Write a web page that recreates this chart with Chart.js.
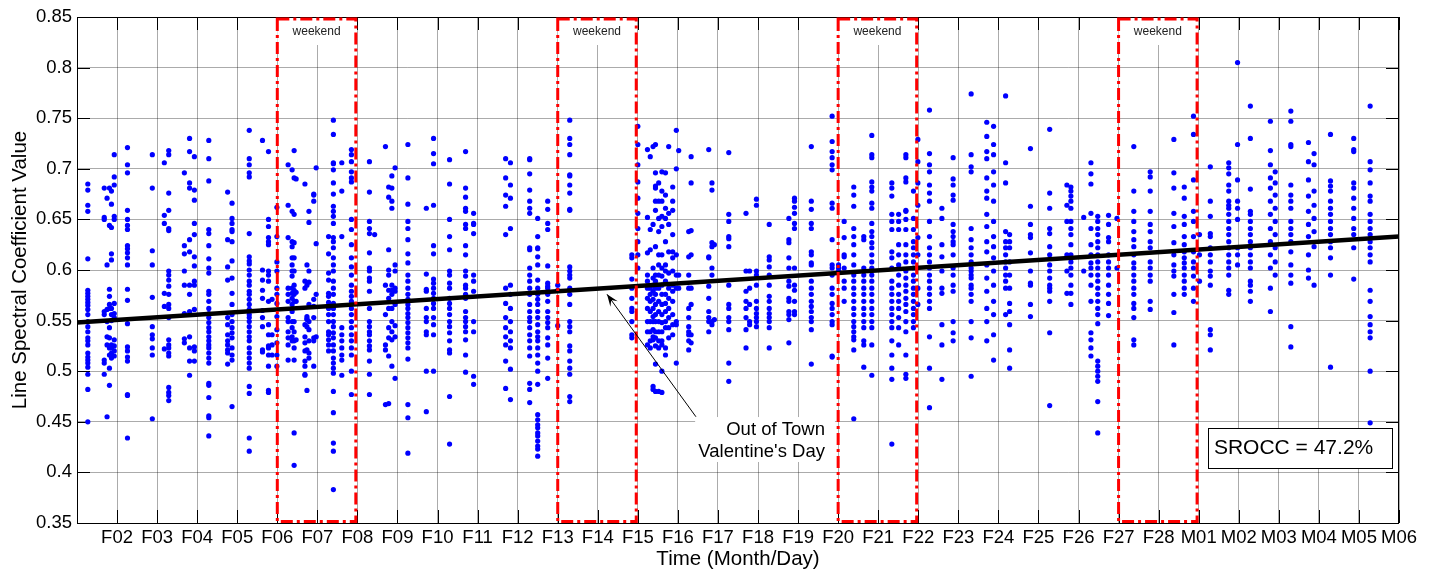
<!DOCTYPE html>
<html><head><meta charset="utf-8">
<script src="https://cdn.jsdelivr.net/npm/chart.js@4.4.1/dist/chart.umd.min.js"></script>
<style>html,body{margin:0;padding:0;background:#fff;}#wrap{width:1429px;height:571px;}</style>
</head><body><div id="wrap"><canvas id="c" width="1429" height="571"></canvas></div>
<script>
// x axis: day index (1 = Feb 01 ... 34 = Mar 06)
const dayLabels = ['', 'F02','F03','F04','F05','F06','F07','F08','F09','F10','F11','F12','F13','F14','F15','F16','F17','F18','F19','F20','F21','F22','F23','F24','F25','F26','F27','F28','M01','M02','M03','M04','M05','M06'];
const yTickValues = [0.35,0.4,0.45,0.5,0.55,0.6,0.65,0.7,0.75,0.8,0.85];
const weekendStart = [6, 13, 20, 27];
const trendX = [1, 34];
const trendY = [0.548, 0.633];
const srocc = 'SROCC = 47.2%';

// measurement strips: day position and the values measured there
const stripX = [1.27,1.68,1.75,1.81,1.86,1.93,2.26,2.88,3.18,3.29,3.68,3.81,3.93,4.29,4.76,4.87,5.30,5.63,5.78,5.87,5.99,6.27,6.37,6.42,6.47,6.69,6.74,6.79,6.91,6.97,7.28,7.40,7.61,7.85,8.30,8.43,8.70,8.78,8.86,8.94,9.26,9.72,9.90,10.30,10.70,10.90,11.70,11.82,12.30,12.50,12.75,13.00,13.30,14.85,15.00,15.24,15.31,15.38,15.44,15.52,15.60,15.69,15.77,15.87,15.96,16.02,16.27,16.33,16.77,16.85,16.91,17.27,17.70,17.79,17.96,18.28,18.77,18.91,19.33,19.85,20.01,20.15,20.39,20.64,20.84,21.34,21.51,21.69,21.88,21.99,22.28,22.59,22.87,23.32,23.71,23.88,24.18,24.28,24.80,25.28,25.71,25.81,26.13,26.31,26.48,26.75,26.96,27.38,27.79,28.38,28.64,28.87,29.02,29.29,29.75,29.97,30.29,30.79,30.91,31.30,31.74,31.88,32.29,32.87,33.28];
const stripY = [
[0.685,0.679,0.664,0.658,0.611,0.580,0.577,0.574,0.571,0.568,0.565,0.561,0.556,0.549,0.544,0.539,0.533,0.530,0.526,0.518,0.514,0.511,0.508,0.504,0.497,0.482,0.450],
[0.681,0.652,0.650,0.559,0.556,0.511,0.508,0.497],
[0.671,0.605,0.561,0.549,0.534,0.526,0.455],
[0.681,0.644,0.581,0.574,0.566,0.562,0.543,0.533,0.523,0.516,0.503,0.486],
[0.678,0.665,0.642,0.616,0.610,0.562,0.556,0.550,0.526,0.523,0.518,0.513],
[0.714,0.692,0.684,0.653,0.650,0.567,0.557,0.553,0.531,0.525,0.520,0.515],
[0.721,0.704,0.696,0.659,0.650,0.644,0.640,0.624,0.621,0.617,0.612,0.605,0.581,0.570,0.547,0.524,0.520,0.514,0.510,0.477,0.476,0.434],
[0.714,0.681,0.619,0.605,0.573,0.544,0.536,0.532,0.523,0.516,0.453],
[0.706,0.654,0.646,0.577,0.564,0.522],
[0.718,0.714,0.676,0.659,0.641,0.639,0.599,0.595,0.590,0.584,0.576,0.566,0.562,0.553,0.531,0.526,0.523,0.518,0.515,0.484,0.479,0.476,0.471],
[0.696,0.624,0.616,0.599,0.585,0.557,0.532,0.528],
[0.730,0.717,0.686,0.681,0.630,0.618,0.585,0.576,0.559,0.534,0.523,0.510,0.496],
[0.712,0.679,0.669,0.646,0.635,0.613,0.604,0.589,0.585,0.561,0.524,0.520,0.510],
[0.728,0.710,0.688,0.640,0.636,0.624,0.611,0.602,0.597,0.579,0.576,0.569,0.562,0.557,0.553,0.548,0.543,0.539,0.534,0.530,0.526,0.523,0.518,0.513,0.508,0.488,0.486,0.474,0.456,0.454,0.436],
[0.677,0.630,0.603,0.590,0.553,0.546,0.536,0.530,0.526,0.521,0.518,0.507],
[0.666,0.651,0.646,0.640,0.638,0.628,0.609,0.592,0.577,0.566,0.556,0.549,0.543,0.538,0.533,0.523,0.516,0.511,0.465],
[0.738,0.710,0.704,0.696,0.692,0.636,0.613,0.609,0.606,0.600,0.595,0.589,0.585,0.579,0.576,0.571,0.566,0.561,0.556,0.553,0.549,0.544,0.539,0.534,0.530,0.523,0.518,0.513,0.508,0.503,0.485,0.478,0.434,0.421],
[0.728,0.600,0.590,0.580,0.572,0.560,0.553,0.544,0.521,0.519],
[0.717,0.650,0.643,0.632,0.628,0.625,0.599,0.595,0.589,0.569,0.546,0.536,0.525,0.523,0.516,0.505,0.481,0.479],
[0.571,0.536,0.526,0.516],
[0.662,0.633,0.608,0.599,0.582,0.576,0.567,0.554,0.541,0.528,0.516,0.505],
[0.704,0.664,0.632,0.582,0.576,0.569,0.553,0.549,0.539,0.533,0.526,0.511],
[0.699,0.658,0.628,0.623,0.612,0.605,0.599,0.594,0.582,0.577,0.572,0.566,0.559,0.549,0.543,0.534,0.530],
[0.718,0.691,0.655,0.627,0.612,0.599,0.585,0.580,0.576,0.569,0.549,0.539,0.530,0.523,0.511,0.439,0.407],
[0.690,0.578,0.569,0.531],
[0.685,0.589,0.582,0.546,0.534,0.528,0.520,0.510,0.505,0.497,0.496],
[0.605,0.585,0.554,0.552,0.551,0.544,0.521,0.481],
[0.658,0.647,0.599,0.588,0.566,0.549,0.541,0.530,0.518,0.513],
[0.675,0.674,0.668,0.571,0.564,0.553,0.533,0.530,0.505],
[0.701,0.626,0.576,0.534],
[0.633,0.616,0.597,0.590,0.577,0.574,0.568,0.562,0.556,0.549,0.539,0.536,0.531,0.526,0.520],
[0.748,0.734,0.706,0.705,0.699,0.686,0.675,0.663,0.658,0.653,0.646,0.632,0.628,0.622,0.612,0.605,0.599,0.589,0.582,0.576,0.567,0.562,0.556,0.549,0.544,0.538,0.533,0.526,0.520,0.513,0.508,0.503,0.498,0.480,0.459,0.429,0.421,0.383],
[0.706,0.678,0.633,0.543,0.536,0.530,0.523,0.516,0.511,0.496],
[0.719,0.714,0.707,0.697,0.691,0.687,0.650,0.640,0.625,0.612,0.603,0.595,0.585,0.579,0.574,0.569,0.562,0.556,0.549,0.543,0.536,0.530,0.523,0.516,0.500,0.477],
[0.707,0.677,0.648,0.641,0.636,0.617,0.602,0.599,0.592,0.589,0.579,0.562,0.549,0.544,0.539,0.536,0.530,0.525,0.521,0.510,0.497,0.477],
[0.635],
[0.722,0.585,0.556,0.526,0.521,0.467],
[0.682,0.672,0.620,0.600,0.595,0.580,0.572,0.562,0.543,0.533,0.515,0.468],
[0.693,0.681,0.668,0.661,0.585,0.580,0.576,0.562,0.549,0.539,0.531,0.505],
[0.701,0.605,0.599,0.582,0.579,0.566,0.545,0.534,0.493],
[0.724,0.691,0.665,0.648,0.641,0.630,0.616,0.607,0.595,0.589,0.582,0.576,0.571,0.566,0.562,0.557,0.553,0.548,0.543,0.538,0.533,0.528,0.523,0.512,0.467,0.454,0.419],
[0.661,0.596,0.581,0.579,0.562,0.553,0.549,0.539,0.536,0.500,0.460],
[0.730,0.715,0.705,0.664,0.624,0.616,0.591,0.587,0.582,0.577,0.572,0.567,0.562,0.553,0.546,0.536,0.500],
[0.709,0.685,0.650,0.633,0.620,0.599,0.595,0.587,0.582,0.572,0.567,0.562,0.556,0.549,0.544,0.538,0.530,0.521,0.518,0.475,0.428],
[0.717,0.681,0.672,0.661,0.658,0.645,0.641,0.624,0.615,0.599,0.594,0.585,0.582,0.576,0.572,0.559,0.553,0.549,0.544,0.539,0.531,0.516,0.499],
[0.656,0.646,0.645,0.636,0.595,0.589,0.579,0.549,0.539,0.495,0.487],
[0.710,0.691,0.674,0.663,0.635,0.582,0.567,0.553,0.543,0.534,0.526,0.510,0.483],
[0.706,0.684,0.671,0.641,0.585,0.576,0.562,0.549,0.539,0.530,0.523,0.502,0.472],
[0.710,0.709,0.695,0.679,0.668,0.661,0.656,0.622,0.620,0.602,0.595,0.589,0.582,0.576,0.566,0.559,0.553,0.549,0.543,0.536,0.530,0.523,0.515,0.488,0.482,0.469],
[0.651,0.633,0.622,0.621,0.613,0.605,0.590,0.582,0.576,0.571,0.566,0.559,0.553,0.546,0.539,0.534,0.530,0.523,0.516,0.508,0.500,0.487,0.457,0.452,0.447,0.444,0.439,0.436,0.431,0.426,0.423,0.416],
[0.668,0.660,0.646,0.640,0.604,0.587,0.584,0.582,0.576,0.569,0.559,0.553,0.548,0.543,0.533,0.526,0.513,0.493],
[0.585,0.580,0.545],
[0.748,0.730,0.724,0.714,0.694,0.693,0.684,0.676,0.660,0.659,0.603,0.599,0.595,0.592,0.582,0.576,0.566,0.549,0.544,0.539,0.525,0.520,0.510,0.503,0.497,0.475,0.470],
[0.615,0.612,0.591,0.582,0.572,0.562,0.559,0.549,0.536,0.533],
[0.742,0.724,0.704,0.687,0.671,0.656,0.641,0.628,0.615,0.602],
[0.719,0.652,0.617,0.595,0.589,0.582,0.572,0.562,0.549,0.539,0.526],
[0.712,0.640,0.620,0.582,0.576,0.569,0.559,0.549,0.539,0.530,0.523],
[0.722,0.645,0.602,0.592,0.585,0.579,0.571,0.562,0.554,0.549,0.541,0.534,0.531,0.485,0.482],
[0.724,0.696,0.683,0.681,0.668,0.659,0.623,0.595,0.589,0.582,0.576,0.566,0.556,0.549,0.539,0.533,0.525,0.507,0.480],
[0.686,0.668,0.651,0.638,0.615,0.605,0.595,0.582,0.569,0.559,0.549,0.539,0.530,0.523,0.480],
[0.697,0.678,0.668,0.653,0.643,0.615,0.602,0.594,0.585,0.576,0.566,0.556,0.548,0.539,0.530,0.526,0.500,0.479],
[0.696,0.674,0.661,0.651,0.628,0.605,0.599,0.589,0.576,0.567,0.559,0.549,0.543,0.523,0.516],
[0.722,0.656,0.645,0.618,0.597,0.582,0.572,0.562,0.553,0.543,0.533],
[0.682,0.668,0.659,0.635,0.618,0.612,0.599,0.585,0.579,0.569,0.556,0.546,0.536],
[0.738,0.700,0.615,0.595,0.582,0.549,0.546,0.508],
[0.718,0.595,0.582],
[0.638,0.613,0.595,0.582,0.562,0.553,0.544,0.539,0.536,0.530,0.521],
[0.712,0.686,0.639,0.615,0.582,0.566,0.536,0.528],
[0.719,0.613,0.612,0.584,0.572,0.559,0.553,0.549,0.539],
[0.686,0.679,0.627,0.623,0.602,0.595,0.549,0.546],
[0.625,0.551],
[0.716,0.655,0.648,0.633,0.631,0.623,0.585,0.566,0.562,0.553,0.549,0.541,0.508,0.490],
[0.656,0.599,0.579,0.569,0.562,0.553,0.541,0.523],
[0.599,0.582,0.566,0.549,0.546],
[0.670,0.664,0.599,0.595,0.585,0.569,0.562,0.557,0.553,0.549,0.544],
[0.645,0.613,0.610,0.603,0.595,0.585,0.574,0.569,0.562,0.557,0.553,0.549,0.543,0.523],
[0.651,0.630,0.627,0.612,0.602,0.589,0.584,0.572,0.569,0.559,0.556,0.551,0.528],
[0.671,0.668,0.662,0.656,0.646,0.641,0.602,0.585,0.580,0.569,0.559,0.556],
[0.722,0.668,0.660,0.646,0.641,0.618,0.615,0.607,0.605,0.589,0.582,0.576,0.569,0.564,0.559,0.553,0.549,0.541,0.507],
[0.752,0.727,0.717,0.711,0.704,0.699,0.666,0.661,0.630,0.605,0.602,0.595,0.582,0.576,0.567,0.562,0.556,0.549,0.546,0.515,0.514],
[0.605,0.602,0.599],
[0.648,0.632,0.615,0.613,0.602,0.589,0.582,0.569],
[0.682,0.674,0.663,0.641,0.633,0.625,0.615,0.605,0.595,0.589,0.582,0.576,0.569,0.562,0.556,0.549,0.544,0.539,0.534,0.531,0.521,0.453],
[0.633,0.630,0.602,0.595,0.589,0.582,0.576,0.569,0.562,0.556,0.549,0.543,0.530,0.526,0.504],
[0.733,0.714,0.711,0.687,0.682,0.678,0.666,0.661,0.646,0.638,0.633,0.627,0.622,0.615,0.608,0.602,0.595,0.589,0.582,0.576,0.569,0.562,0.556,0.549,0.543,0.526,0.496],
[0.686,0.681,0.673,0.655,0.648,0.640,0.618,0.612,0.602,0.589,0.582,0.576,0.569,0.562,0.556,0.549,0.543,0.530,0.516,0.503,0.492,0.428],
[0.655,0.648,0.640,0.625,0.615,0.605,0.595,0.585,0.576,0.569,0.562,0.553,0.543,0.526],
[0.714,0.711,0.691,0.687,0.659,0.658,0.650,0.640,0.625,0.615,0.608,0.599,0.592,0.585,0.579,0.572,0.566,0.559,0.549,0.539,0.516,0.497,0.493],
[0.678,0.651,0.640,0.628,0.622,0.615,0.608,0.602,0.595,0.589,0.582,0.576,0.569,0.562,0.556,0.549,0.543],
[0.729,0.707,0.686,0.664,0.632,0.615,0.582,0.566],
[0.758,0.715,0.704,0.697,0.684,0.676,0.668,0.648,0.633,0.622,0.615,0.608,0.602,0.595,0.589,0.582,0.576,0.569,0.562,0.534,0.503,0.464],
[0.661,0.651,0.625,0.613,0.599,0.582,0.577,0.546,0.526,0.492],
[0.711,0.690,0.684,0.674,0.669,0.645,0.638,0.633,0.628,0.625,0.615,0.602,0.595,0.585,0.579,0.549,0.538,0.530],
[0.774,0.714,0.702,0.697,0.641,0.630,0.622,0.615,0.608,0.602,0.599,0.595,0.592,0.585,0.582,0.576,0.569,0.549,0.533,0.495],
[0.746,0.732,0.717,0.710,0.691,0.678,0.671,0.655,0.643,0.628,0.618,0.605,0.592,0.579,0.562,0.549,0.530],
[0.742,0.724,0.714,0.697,0.684,0.668,0.648,0.633,0.623,0.612,0.599,0.585,0.569,0.556,0.536,0.511],
[0.772,0.706,0.686,0.638,0.628,0.622,0.615,0.608,0.602,0.595,0.589,0.582,0.556],
[0.635,0.628,0.622,0.608,0.595,0.582,0.567,0.559,0.546,0.521,0.503],
[0.720,0.663,0.645,0.635,0.632,0.617,0.599,0.587,0.585,0.566,0.554],
[0.739,0.676,0.661,0.641,0.636,0.623,0.615,0.605,0.599,0.592,0.585,0.582,0.579,0.569,0.538,0.466],
[0.684,0.664,0.648,0.615,0.599,0.577],
[0.682,0.678,0.673,0.668,0.661,0.648,0.641,0.635,0.625,0.615,0.608,0.602,0.595,0.585,0.577,0.566],
[0.652,0.599],
[0.706,0.695,0.685,0.656,0.641,0.625,0.615,0.607,0.602,0.595,0.585,0.569,0.538,0.531,0.523,0.515],
[0.653,0.648,0.641,0.635,0.628,0.622,0.615,0.608,0.602,0.595,0.589,0.582,0.576,0.569,0.562,0.556,0.547,0.510,0.505,0.500,0.495,0.490,0.470,0.439],
[0.654,0.645,0.632,0.628,0.615,0.608,0.602,0.595,0.585,0.576,0.567,0.555],
[0.651,0.602],
[0.722,0.678,0.658,0.648,0.638,0.630,0.623,0.615,0.607,0.602,0.595,0.589,0.582,0.576,0.567,0.562,0.553,0.531,0.526],
[0.697,0.692,0.678,0.658,0.645,0.638,0.628,0.622,0.608,0.602,0.595,0.589,0.569,0.561],
[0.729,0.696,0.681,0.656,0.643,0.627,0.615,0.605,0.599,0.594,0.576,0.558,0.526],
[0.682,0.671,0.653,0.645,0.633,0.625,0.618,0.612,0.607,0.602,0.595,0.589,0.582,0.576],
[0.752,0.734,0.689,0.658,0.648,0.633,0.618,0.608,0.602,0.594,0.582,0.569],
[0.635,0.615,0.589],
[0.702,0.668,0.653,0.636,0.633,0.622,0.615,0.608,0.599,0.594,0.585,0.541,0.536,0.521],
[0.706,0.701,0.695,0.684,0.678,0.668,0.664,0.661,0.655,0.648,0.641,0.635,0.628,0.622,0.615,0.608,0.602,0.595,0.580,0.576],
[0.805,0.724,0.689,0.668,0.661,0.650,0.622,0.615,0.605],
[0.762,0.730,0.680,0.658,0.655,0.648,0.641,0.635,0.628,0.622,0.615,0.608,0.602,0.589,0.585,0.579,0.569],
[0.747,0.718,0.704,0.691,0.681,0.668,0.655,0.641,0.628,0.615,0.602,0.582,0.559],
[0.697,0.686,0.674,0.661,0.648,0.635,0.622,0.608,0.595],
[0.757,0.747,0.724,0.722,0.684,0.674,0.668,0.661,0.648,0.641,0.635,0.628,0.618,0.605,0.595,0.587,0.544,0.524],
[0.726,0.707,0.689,0.673,0.658,0.645,0.633,0.615,0.600,0.592],
[0.715,0.704,0.678,0.664,0.651,0.638,0.623,0.585],
[0.734,0.688,0.683,0.678,0.668,0.661,0.655,0.648,0.641,0.635,0.628,0.622,0.612,0.595,0.504],
[0.730,0.719,0.717,0.686,0.681,0.671,0.661,0.651,0.641,0.635,0.622,0.591],
[0.762,0.707,0.699,0.686,0.673,0.668,0.655,0.648,0.641,0.635,0.628,0.622,0.615,0.608,0.580,0.569,0.554,0.546,0.539,0.533,0.500,0.449]
];

// annotation anchors in data units
const note = { tipX: 14.23, tipY: 0.576, tailX: 16.45, tailY: 0.455, textX: 19.67, line1Y: 0.442, line2Y: 0.420,
  boxL: 16.43, boxR: 19.92, boxT: 0.4547, boxB: 0.4103, lines: ['Out of Town', "Valentine's Day"] };
const sroccBox = { l: 29.23, r: 33.83, t: 0.4439, b: 0.4044, textX: 29.38, textY: 0.4241 };

const points = [];
stripX.forEach((sx, i) => stripY[i].forEach(v => points.push({ x: sx, y: v })));

const FONT = "'Liberation Sans', Arial, sans-serif";
const GRID = 'rgba(0,0,0,0.33)';

const deco = {
  id: 'deco',
  beforeDatasetsDraw(chart) {
    const { ctx, chartArea: a, scales: { x, y } } = chart;
    ctx.save();
    ctx.strokeStyle = '#000'; ctx.lineWidth = 1;
    ctx.beginPath();
    x.ticks.forEach(t => {
      const px = Math.round(x.getPixelForValue(t.value)) + 0.5;
      ctx.moveTo(px, a.bottom); ctx.lineTo(px, a.bottom - 13);
      ctx.moveTo(px, a.top); ctx.lineTo(px, a.top + 13);
    });
    y.ticks.forEach(t => {
      const py = Math.round(y.getPixelForValue(t.value)) + 0.5;
      ctx.moveTo(a.left, py); ctx.lineTo(a.left + 13, py);
      ctx.moveTo(a.right, py); ctx.lineTo(a.right - 13, py);
    });
    ctx.stroke();
    ctx.restore();
  },
  afterDatasetsDraw(chart) {
    const { ctx, chartArea: a, scales: { x, y } } = chart;
    ctx.save();
    // axes box
    ctx.strokeStyle = '#000'; ctx.lineWidth = 1;
    ctx.strokeRect(Math.round(a.left) + 0.5, Math.round(a.top) + 0.5, Math.round(a.right - a.left) - 1, Math.round(a.bottom - a.top));
    // weekend boxes
    weekendStart.forEach(d => {
      const l = x.getPixelForValue(d), r = x.getPixelForValue(d + 1.96);
      const t = y.getPixelForValue(0.848), b = y.getPixelForValue(0.3515);
      ctx.fillStyle = '#fff';
      ctx.fillRect(l, a.top + 1, r - l, 27);
      ctx.fillStyle = '#222'; ctx.font = '12px ' + FONT; ctx.textAlign = 'center'; ctx.textBaseline = 'middle';
      ctx.fillText('weekend', (l + r) / 2, a.top + 15);
      ctx.strokeStyle = '#ff0000'; ctx.lineWidth = 3; ctx.setLineDash([12, 4, 3, 4]);
      ctx.strokeRect(l, t, r - l, b - t);
      ctx.setLineDash([]);
    });
    // arrow
    const tx = x.getPixelForValue(note.tipX), ty = y.getPixelForValue(note.tipY);
    const sx = x.getPixelForValue(note.tailX), sy = y.getPixelForValue(note.tailY);
    const ang = Math.atan2(ty - sy, tx - sx);
    ctx.strokeStyle = '#000'; ctx.lineWidth = 1;
    ctx.beginPath(); ctx.moveTo(sx, sy); ctx.lineTo(tx, ty); ctx.stroke();
    const L = 12, W = 4.5;
    const bx = tx - L * Math.cos(ang), by = ty - L * Math.sin(ang);
    const nx = -Math.sin(ang), ny = Math.cos(ang);
    ctx.fillStyle = '#000';
    ctx.beginPath();
    ctx.moveTo(tx, ty);
    ctx.lineTo(bx + nx * W, by + ny * W);
    ctx.lineTo(tx - 0.6 * L * Math.cos(ang), ty - 0.6 * L * Math.sin(ang));
    ctx.lineTo(bx - nx * W, by - ny * W);
    ctx.closePath(); ctx.fill();
    // note text box
    const nl = x.getPixelForValue(note.boxL), nr = x.getPixelForValue(note.boxR);
    const nt = y.getPixelForValue(note.boxT), nb = y.getPixelForValue(note.boxB);
    ctx.fillStyle = '#fff'; ctx.fillRect(nl, nt, nr - nl, nb - nt);
    ctx.fillStyle = '#000'; ctx.font = '18.5px ' + FONT; ctx.textAlign = 'right'; ctx.textBaseline = 'middle';
    ctx.fillText(note.lines[0], x.getPixelForValue(note.textX), y.getPixelForValue(note.line1Y));
    ctx.fillText(note.lines[1], x.getPixelForValue(note.textX), y.getPixelForValue(note.line2Y));
    // SROCC box
    const sl = Math.round(x.getPixelForValue(sroccBox.l)) + 0.5, sr = Math.round(x.getPixelForValue(sroccBox.r)) + 0.5;
    const st = Math.round(y.getPixelForValue(sroccBox.t)) + 0.5, sb = Math.round(y.getPixelForValue(sroccBox.b)) + 0.5;
    ctx.fillStyle = '#fff'; ctx.fillRect(sl, st, sr - sl, sb - st);
    ctx.strokeStyle = '#000'; ctx.lineWidth = 1; ctx.strokeRect(sl, st, sr - sl, sb - st);
    ctx.fillStyle = '#000'; ctx.font = '21px ' + FONT; ctx.textAlign = 'left'; ctx.textBaseline = 'middle';
    ctx.fillText(srocc, x.getPixelForValue(sroccBox.textX), y.getPixelForValue(sroccBox.textY));
    // axis titles
    ctx.font = '20.5px ' + FONT; ctx.textAlign = 'center'; ctx.textBaseline = 'middle';
    ctx.fillText('Time (Month/Day)', (a.left + a.right) / 2, 559);
    ctx.save();
    ctx.translate(25.5, (a.top + a.bottom) / 2); ctx.rotate(-Math.PI / 2);
    ctx.textBaseline = 'alphabetic';
    ctx.fillText('Line Spectral Coefficient Value', 0, 0);
    ctx.restore();
    ctx.restore();
  }
};

new Chart(document.getElementById('c'), {
  type: 'scatter',
  data: {
    datasets: [
      { type: 'line', data: trendX.map((v, i) => ({ x: v, y: trendY[i] })), borderColor: '#000', borderWidth: 4.5,
        pointRadius: 0, fill: false, order: 0 },
      { data: points, backgroundColor: '#0000ff', borderWidth: 0, pointRadius: 2.6, order: 1 }
    ]
  },
  options: {
    responsive: false, animation: false, devicePixelRatio: 1,
    layout: { padding: { top: 17, right: 30, left: 0, bottom: 0 } },
    plugins: { legend: { display: false }, tooltip: { enabled: false } },
    scales: {
      x: {
        type: 'linear', min: 1, max: 34,
        afterBuildTicks: s => { s.ticks = dayLabels.map((l, i) => ({ value: i + 1 })); },
        afterFit: s => { s.height = 48; s.paddingLeft = 0; s.paddingRight = 0; },
        ticks: { autoSkip: false, maxRotation: 0, minRotation: 0, padding: 4, color: '#000',
          font: { family: FONT, size: 18.5 }, callback: v => dayLabels[Math.round(v) - 1] },
        grid: { color: GRID, lineWidth: 1, drawTicks: false }, border: { display: false }
      },
      y: {
        min: 0.35, max: 0.85,
        afterBuildTicks: s => { s.ticks = yTickValues.map(v => ({ value: v })); },
        afterFit: s => { s.width = 77; s.paddingTop = 0; s.paddingBottom = 0; },
        ticks: { padding: 5, color: '#000', font: { family: FONT, size: 18.5 }, callback: v => String(+v.toFixed(2)) },
        grid: { color: GRID, lineWidth: 1, drawTicks: false }, border: { display: false }
      }
    }
  },
  plugins: [deco]
});
</script></body></html>
